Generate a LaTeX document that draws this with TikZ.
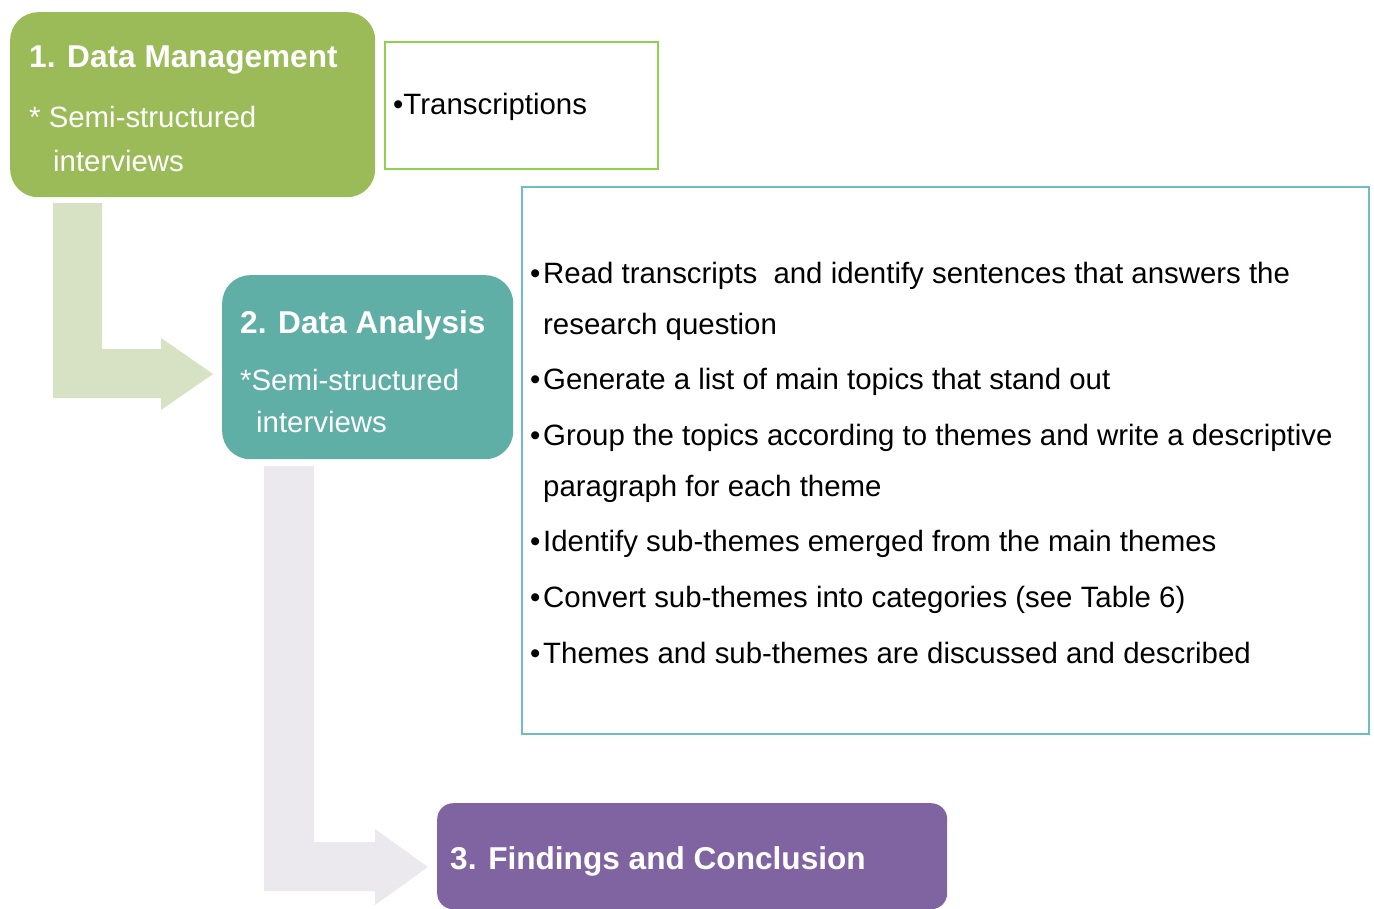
\documentclass[tikz,border=0pt]{standalone}
\usepackage{fontspec}
\setmainfont{Liberation Sans}
\newcommand\bodysize{\fontsize{29.4}{35}\selectfont}
\newcommand\headsize{\fontsize{31.6}{38}\selectfont\bfseries}
\definecolor{mgreen}{HTML}{9BBB59}
\definecolor{mteal}{HTML}{5FAFA6}
\definecolor{mpurple}{HTML}{8064A2}
\definecolor{lgreen}{HTML}{92D050}
\definecolor{lteal}{HTML}{6FBEBF}
\definecolor{arrowgreen}{HTML}{D7E2C4}
\definecolor{arrowgrey}{HTML}{EBE8EE}
\begin{document}
\begin{tikzpicture}[x=1pt,y=-1pt,
  stagebox/.style={fill=#1, draw=none, rounded corners=28pt, anchor=north west, inner sep=0},
  listbox/.style={draw=#1, line width=2pt, fill=white, anchor=north west, inner sep=0},
  lbl/.style={anchor=base west, inner sep=0, font=\bodysize},
  head/.style={anchor=base west, inner sep=0, font=\headsize, text=white},
  sub/.style={anchor=base west, inner sep=0, font=\bodysize, text=white}]
\useasboundingbox (0,0) rectangle (1374,908);
\fill[white] (0,0) rectangle (1374,908);

% bent block arrows between the stages
\fill[arrowgreen] (53,203) -- (102,203) -- (102,349) -- (161,349) -- (161,338)
  -- (213,374) -- (161,410) -- (161,398) -- (53,398) -- cycle;
\fill[arrowgrey] (264,466) -- (314,466) -- (314,842) -- (375,842) -- (375,829)
  -- (428,867) -- (375,905) -- (375,891) -- (264,891) -- cycle;

% stage boxes
\node[stagebox=mgreen, minimum width=365pt, minimum height=185pt] (dm) at (10,12) {};
\node[stagebox=mteal, minimum width=291pt, minimum height=184pt] (da) at (222,275) {};
\node[stagebox=mpurple, rounded corners=16pt, minimum width=510pt, minimum height=106pt] (fc) at (437,803) {};

% detail boxes
\node[listbox=lgreen, minimum width=273pt, minimum height=127pt] (tr) at (384,41) {};
\node[listbox=lteal, minimum width=847pt, minimum height=547pt] (steps) at (521,186) {};

% stage texts
\node[head] (dmhead) at (29,67) {1. Data Management};
\node[sub] (dmsub) at (29,127) {* Semi-structured};
\node[sub] (dmsub2) at (53,171) {interviews};
\node[head] (dahead) at (240,333) {2. Data Analysis};
\node[sub] (dasub) at (240,390) {*Semi-structured};
\node[sub] (dasub2) at (256,432) {interviews};
\node[head] (fchead) at (450,869) {3. Findings and Conclusion};

% detail texts
\node[lbl] (trtext) at (393,114) {•Transcriptions};
\foreach \name/\yy in {b1/283, b2/389, b3/445, b4/551, b5/607, b6/663}
  \node[lbl] (\name) at (530,\yy) {•};
\node[lbl] (s1) at (543,283) {Read transcripts~ and identify sentences that answers the};
\node[lbl] (s1b) at (543,334) {research question};
\node[lbl] (s2) at (543,389) {Generate a list of main topics that stand out};
\node[lbl] (s3) at (543,445) {Group the topics according to themes and write a descriptive};
\node[lbl] (s3b) at (543,496) {paragraph for each theme};
\node[lbl] (s4) at (543,551) {Identify sub-themes emerged from the main themes};
\node[lbl] (s5) at (543,607) {Convert sub-themes into categories (see Table 6)};
\node[lbl] (s6) at (543,663) {Themes and sub-themes are discussed and described};
\end{tikzpicture}
\end{document}
